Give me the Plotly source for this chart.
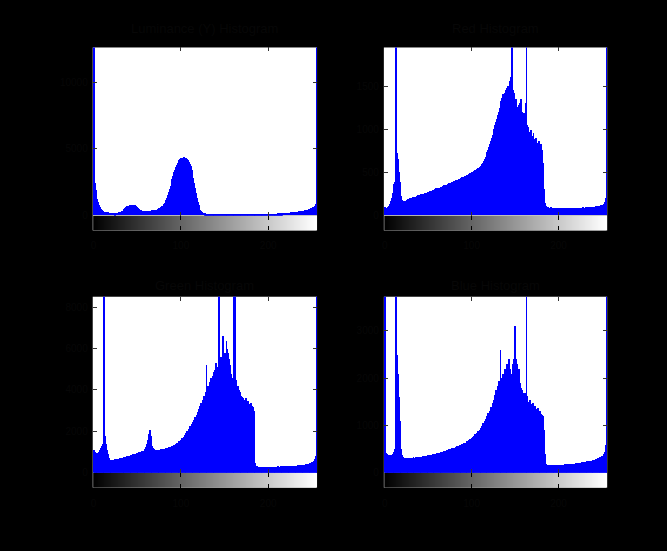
import plotly.graph_objects as go

W, H = 667, 551

BINS = list(range(256))
GRAY = list(range(256))

TITLES = ["Luminance (Y) Histogram", "Red Histogram", "Green Histogram", "Blue Histogram"]
X_TICKS = [0, 100, 200]
Y_TICKS = [[0, 5000, 10000], [0, 500, 1000, 1500], [0, 2000, 4000, 6000, 8000], [0, 1000, 2000, 3000]]
Y_MAX = [12600, 1950, 8500, 3720]

LUM = [
    25000, 2400, 1900, 1500, 1200, 950, 750, 600, 480, 400, 340, 300, 270, 250, 235, 220,
    205, 195, 185, 180, 170, 165, 160, 150, 148, 152, 160, 170, 185, 200, 220, 250,
    290, 340, 400, 470, 540, 600, 650, 690, 720, 740, 760, 780, 790, 780, 760, 730,
    690, 640, 580, 520, 460, 410, 370, 340, 320, 305, 295, 290, 290, 295, 300, 310,
    320, 330, 340, 350, 360, 370, 385, 400, 420, 440, 470, 500, 540, 590, 650, 720,
    800, 900, 1000, 1150, 1300, 1500, 1700, 1950, 2200, 2450, 2700, 2950, 3200, 3400, 3600, 3750,
    3900, 4000, 4100, 4180, 4250, 4300, 4320, 4330, 4310, 4290, 4250, 4200, 4120, 4000, 3850, 3650,
    3400, 3100, 2750, 2400, 2000, 1650, 1300, 1000, 750, 550, 400, 300, 230, 180, 150, 130,
    120, 110, 105, 100, 98, 95, 92, 90, 90, 88, 88, 86, 85, 85, 84, 84,
    83, 83, 82, 82, 82, 81, 81, 80, 80, 80, 80, 80, 80, 80, 80, 80,
    80, 82, 79, 81, 80, 78, 80, 82, 81, 79, 80, 80, 81, 80, 79, 80,
    80, 81, 80, 79, 80, 81, 82, 80, 80, 81, 82, 83, 84, 85, 86, 87,
    88, 89, 90, 92, 94, 95, 96, 98, 100, 102, 104, 106, 108, 110, 112, 115,
    118, 120, 123, 126, 130, 134, 138, 142, 146, 150, 155, 160, 165, 170, 176, 182,
    188, 195, 200, 208, 215, 222, 230, 238, 246, 255, 265, 275, 285, 295, 305, 318,
    330, 345, 360, 375, 390, 410, 430, 455, 480, 510, 540, 580, 630, 700, 850, 25000,
]

RED = [
    90, 80, 85, 90, 100, 110, 130, 160, 200, 260, 320, 360, 380, 3000, 720, 650,
    500, 380, 280, 220, 180, 160, 158, 165, 168, 180, 185, 178, 190, 195, 188, 200,
    205, 198, 210, 215, 208, 222, 228, 218, 235, 240, 232, 245, 250, 242, 258, 262,
    255, 268, 272, 265, 280, 285, 276, 290, 295, 288, 300, 310, 302, 315, 320, 312,
    325, 330, 322, 338, 345, 336, 350, 355, 348, 362, 370, 360, 375, 382, 372, 390,
    395, 388, 402, 410, 400, 418, 425, 415, 432, 440, 430, 448, 455, 445, 462, 470,
    460, 480, 488, 476, 495, 505, 492, 515, 525, 512, 535, 548, 540, 560, 575, 565,
    590, 610, 630, 655, 680, 700, 730, 760, 790, 830, 860, 890, 930, 960, 1000, 1040,
    1080, 1120, 1160, 1200, 1240, 1280, 1320, 1360, 1400, 1380, 1420, 1450, 1400, 1480, 1500, 1450,
    1550, 1600, 3200, 1450, 1380, 1420, 1300, 1350, 1250, 1200, 1280, 1300, 1250, 1350, 1200, 1150,
    1180, 1100, 1300, 3400, 1050, 1020, 960, 940, 990, 920, 900, 950, 880, 860, 900, 840,
    820, 860, 800, 780, 820, 760, 600, 300, 140, 110, 95, 90, 92, 88, 85, 90,
    86, 84, 88, 85, 82, 86, 84, 80, 83, 85, 82, 80, 84, 86, 82, 80,
    83, 85, 82, 84, 86, 82, 80, 84, 85, 83, 86, 84, 82, 85, 87, 84,
    86, 88, 85, 87, 90, 86, 88, 92, 89, 90, 94, 91, 93, 96, 92, 95,
    98, 95, 100, 104, 98, 102, 108, 104, 110, 115, 112, 120, 130, 150, 200, 3000,
]

GREEN = [
    1100, 1000, 950, 900, 900, 950, 1000, 1100, 1200, 1300, 1400, 1500, 12000, 1800, 1400, 1100,
    900, 750, 650, 600, 610, 640, 620, 650, 660, 630, 670, 690, 660, 700, 720, 690,
    730, 750, 720, 760, 780, 750, 800, 820, 790, 840, 860, 830, 880, 900, 870, 920,
    940, 960, 930, 980, 1000, 970, 1020, 1050, 1000, 1080, 1100, 1150, 1250, 1400, 1600, 1900,
    2100, 1800, 1500, 1300, 1200, 1150, 1100, 1120, 1080, 1100, 1130, 1090, 1120, 1150, 1100, 1140,
    1160, 1120, 1180, 1200, 1150, 1220, 1250, 1200, 1280, 1300, 1260, 1330, 1360, 1320, 1400, 1450,
    1420, 1500, 1560, 1520, 1600, 1680, 1640, 1750, 1850, 1800, 1950, 2050, 2000, 2150, 2250, 2200,
    2350, 2450, 2400, 2550, 2700, 2650, 2800, 2950, 3100, 3000, 3250, 3400, 3300, 3550, 3700, 3600,
    3900, 5200, 4000, 4200, 4100, 4400, 4600, 4300, 4700, 4900, 4500, 5000, 5300, 4800, 5100, 12000,
    10000, 5300, 5600, 5200, 6600, 5400, 5800, 5500, 6400, 6000, 5800, 5500, 5200, 4800, 4600, 4400,
    4300, 13000, 9000, 4500, 4200, 4200, 4000, 3900, 3800, 3700, 3650, 3600, 3550, 3500, 3600, 3450,
    3400, 3500, 3350, 3300, 3400, 3250, 3200, 3000, 1500, 500, 350, 320, 300, 310, 290, 300,
    295, 300, 290, 285, 300, 295, 290, 300, 305, 295, 300, 310, 300, 305, 310, 300,
    310, 305, 315, 320, 310, 315, 320, 325, 315, 320, 330, 325, 330, 335, 330, 340,
    335, 345, 340, 350, 345, 355, 350, 360, 365, 355, 370, 375, 365, 380, 390, 380,
    400, 410, 400, 420, 430, 420, 450, 470, 460, 490, 520, 550, 600, 680, 800, 12000,
]

BLUE = [
    8000, 420, 400, 390, 380, 385, 375, 380, 390, 400, 420, 450, 500, 8000, 2500, 2100,
    1600, 1100, 750, 500, 380, 340, 320, 305, 318, 300, 312, 320, 305, 315, 325, 310,
    320, 330, 315, 325, 335, 320, 340, 330, 345, 335, 350, 340, 355, 365, 350, 360,
    370, 360, 375, 385, 370, 390, 380, 395, 405, 390, 410, 400, 415, 425, 410, 430,
    440, 425, 450, 445, 460, 470, 455, 480, 475, 490, 500, 485, 510, 520, 505, 530,
    540, 530, 555, 565, 550, 580, 590, 575, 600, 615, 600, 630, 645, 630, 660, 680,
    670, 700, 720, 710, 740, 760, 750, 790, 820, 800, 850, 880, 870, 920, 960, 940,
    1000, 1050, 1030, 1100, 1150, 1130, 1200, 1260, 1240, 1320, 1400, 1380, 1480, 1550, 1520, 1650,
    1750, 1700, 1850, 1950, 1900, 2600, 2000, 1900, 2100, 2050, 2200, 2000, 2150, 2300, 2250, 2400,
    2200, 2100, 2050, 2300, 2200, 2400, 3100, 2400, 2300, 2100, 2200, 2000, 1900, 1800, 1750, 1700,
    1650, 1700, 1600, 6000, 1620, 1500, 1480, 1550, 1450, 1420, 1480, 1400, 1380, 1420, 1350, 1320,
    1380, 1300, 1280, 1320, 1250, 1220, 1200, 900, 400, 200, 180, 170, 175, 165, 170, 172,
    168, 170, 165, 172, 170, 168, 175, 170, 172, 178, 170, 175, 180, 176, 178, 182,
    180, 185, 182, 188, 185, 190, 188, 195, 192, 198, 200, 196, 205, 210, 206, 212,
    215, 220, 218, 225, 230, 226, 235, 240, 236, 245, 250, 248, 258, 265, 260, 270,
    278, 285, 280, 295, 300, 310, 305, 320, 330, 340, 355, 370, 400, 450, 600, 8000,
]

SERIES = [LUM, RED, GREEN, BLUE]

# panel geometry in pixels: (x0, x1, yTop, yBottom, cbarBottom)
PANELS = [
    (91, 316, 48, 218, 233),
    (383, 607, 48, 218, 233),
    (91, 316, 300, 478, 493),
    (383, 607, 300, 478, 493),
]
TITLE_Y = [29, 29, 289, 289]

TXT = "#070707"
FONT = "Liberation Sans, Arial, sans-serif"


def px(xp):
    return xp / W


def py(yp):
    return 1 - yp / H


fig = go.Figure()
layout = dict(
    width=W, height=H, margin=dict(l=0, r=0, t=0, b=0),
    paper_bgcolor="black", plot_bgcolor="white", showlegend=False,
    bargap=0, font=dict(family=FONT, color=TXT, size=10),
    annotations=[],
)

for i, (vals, (x0, x1, yt, yb, cb)) in enumerate(zip(SERIES, PANELS)):
    ha = 2 * i + 1
    ca = 2 * i + 2
    hs = "" if ha == 1 else str(ha)
    cs = str(ca)
    fig.add_trace(go.Bar(
        x=BINS, y=vals, width=1, marker=dict(color="#0000ff", line=dict(width=0)),
        xaxis="x" + hs, yaxis="y" + hs, hoverinfo="skip",
    ))
    fig.add_trace(go.Heatmap(
        z=[GRAY], x=GRAY, y=[0], colorscale=[[0, "black"], [1, "white"]],
        showscale=False, xaxis="x" + cs, yaxis="y" + cs, hoverinfo="skip",
    ))
    xr = [-1, 256]
    layout["xaxis" + hs] = dict(
        domain=[px(x0), px(x1)], range=xr, anchor="y" + hs,
        tickvals=X_TICKS, showticklabels=False, ticks="inside", ticklen=4,
        tickcolor="#333", mirror="ticks", showline=False, showgrid=False, zeroline=False,
    )
    layout["yaxis" + hs] = dict(
        domain=[py(yb), py(yt)], range=[0, Y_MAX[i]], anchor="x" + hs,
        tickvals=Y_TICKS[i], tickformat="d", ticks="inside", ticklen=4, tickcolor="#333",
        mirror="ticks", showline=False, showgrid=False, zeroline=False,
        tickfont=dict(size=10, color=TXT), ticklabelstandoff=4,
    )
    layout["xaxis" + cs] = dict(
        domain=[px(x0), px(x1)], range=xr, anchor="y" + cs,
        tickvals=X_TICKS, ticks="inside", ticklen=4, tickcolor="black",
        mirror="ticks", showline=False, showgrid=False, zeroline=False,
        tickfont=dict(size=10, color=TXT), ticklabelstandoff=8,
    )
    layout["yaxis" + cs] = dict(
        domain=[py(cb), py(yb)], range=[-0.5, 0.5], anchor="x" + cs,
        showticklabels=False, ticks="", showgrid=False, zeroline=False, showline=False,
    )
    layout["annotations"].append(dict(
        text=TITLES[i], x=(px(x0) + px(x1)) / 2, y=py(TITLE_Y[i]), xref="paper", yref="paper",
        showarrow=False, xanchor="center", yanchor="middle",
        font=dict(family=FONT, size=13, color=TXT),
    ))

fig.update_layout(**layout)
fig.write_html("out.html")
